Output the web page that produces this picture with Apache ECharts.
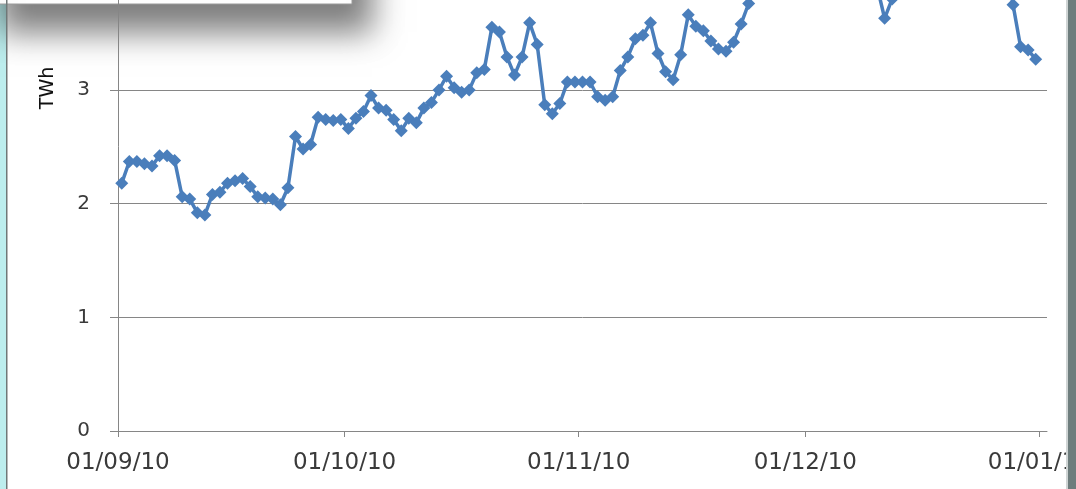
<!DOCTYPE html>
<html>
<head>
<meta charset="utf-8">
<script src="https://cdn.jsdelivr.net/npm/echarts@6/dist/echarts.min.js"></script>
<style>
  html, body { margin: 0; padding: 0; background: #ffffff; width: 1076px; height: 489px; overflow: hidden; position: relative; }
  /* the chart extends above the window: only the lower part of the plot is shown */
  #chart { position: absolute; left: 0; top: -160px; width: 1076px; height: 649px; }
</style>
</head>
<body>
<div id="chart"></div>
<script>
// Daily values, one per day starting at startDate
const startDate = [2010, 8, 1];
const dailyTWh = [
  // September
  2.18, 2.37, 2.37, 2.35, 2.33, 2.42, 2.42, 2.38, 2.06, 2.04,
  1.92, 1.90, 2.08, 2.10, 2.18, 2.20, 2.22, 2.15, 2.06, 2.05,
  2.04, 1.99, 2.14, 2.59, 2.48, 2.52, 2.76, 2.74, 2.73, 2.74,
  // October
  2.66, 2.75, 2.81, 2.95, 2.84, 2.82, 2.74, 2.64, 2.75, 2.71,
  2.84, 2.89, 3.00, 3.12, 3.02, 2.98, 3.00, 3.15, 3.18, 3.55,
  3.51, 3.29, 3.13, 3.29, 3.59, 3.40, 2.87, 2.79, 2.88, 3.07, 3.07,
  // November
  3.07, 3.07, 2.94, 2.91, 2.94, 3.17, 3.29, 3.45, 3.48, 3.59,
  3.32, 3.16, 3.09, 3.31, 3.66, 3.56, 3.52, 3.43, 3.36, 3.34,
  3.42, 3.58, 3.76, 3.95, 4.08, 4.02, 4.12, 4.20, 4.31, 4.42,
  // December
  4.47, 4.52, 4.36, 4.22, 4.27, 4.41, 4.33, 4.18, 4.06, 3.91,
  3.63, 3.80, 4.02, 4.15, 4.28, 4.37, 4.49, 4.56, 4.44, 4.30,
  4.38, 4.51, 4.62, 4.48, 4.35, 4.26, 4.20, 3.75, 3.38, 3.35, 3.27
];
const tickDates = [[2010, 8, 1], [2010, 9, 1], [2010, 10, 1], [2010, 11, 1], [2011, 0, 1]];
const tickLabels = ['01/09/10', '01/10/10', '01/11/10', '01/12/10', '01/01/11'];
const axisEndDate = [2011, 0, 2];
const yMin = 0, yMax = 5, yStep = 1;
const yAxisTitle = 'TWh';

// x positions are counted in days from startDate
const DAY = 86400000;
const utc = (d) => Date.UTC(d[0], d[1], d[2]);
const start = utc(startDate);
const dayOf = (d) => Math.round((utc(d) - start) / DAY);
// each daily mark sits in the middle of its day
const seriesData = dailyTWh.map((v, i) => [i + 0.5, v]);
const tickDays = tickDates.map(dayOf);

const OFF = 160; // vertical shift of the chart container
const AXIS = '#868686';
const FONT = 'DejaVu Sans';

const chart = echarts.init(document.getElementById('chart'), null, { renderer: 'canvas' });
chart.setOption({
  animation: false,
  backgroundColor: '#ffffff',
  grid: { left: 118, right: 29, top: 22.5, bottom: 58, outerBoundsMode: 'none', containLabel: false },
  xAxis: {
    type: 'value',
    min: 0,
    max: dayOf(axisEndDate),
    axisLine: { show: true, lineStyle: { color: AXIS, width: 1 } },
    axisTick: { show: true, customValues: tickDays, length: 6, lineStyle: { color: AXIS } },
    axisLabel: {
      customValues: tickDays,
      formatter: (v) => tickLabels[tickDays.indexOf(Math.round(v))],
      fontFamily: FONT, fontSize: 23, color: '#3a3a3a', margin: 21
    },
    splitLine: { show: false }
  },
  yAxis: {
    type: 'value',
    min: yMin, max: yMax, interval: yStep,
    axisLine: { show: true, lineStyle: { color: AXIS, width: 1 } },
    axisTick: { show: true, length: 8, lineStyle: { color: AXIS } },
    axisLabel: { fontFamily: FONT, fontSize: 20, color: '#3a3a3a', margin: 28 },
    splitLine: { show: true, lineStyle: { color: AXIS, width: 1 } }
  },
  series: [{
    type: 'line',
    data: seriesData,
    symbol: 'diamond',
    symbolSize: 13,
    showAllSymbol: true,
    lineStyle: { color: '#4a7ebb', width: 3.5 },
    itemStyle: { color: '#4a7ebb' },
    z: 5
  }],
  graphic: [
    // light cyan frame strip on the left
    { type: 'rect', z: -2, shape: { x: 0, y: 0, width: 6, height: 649 }, style: { fill: '#bdeeee' } },
    // text box above the plot with its drop shadow
    {
      type: 'rect', z: -1,
      shape: { x: -20, y: 0, width: 372, height: OFF + 4 },
      style: {
        fill: '#ffffff', stroke: '#9a9a9a', lineWidth: 1,
        shadowBlur: 30, shadowOffsetX: 20, shadowOffsetY: 28, shadowColor: 'rgba(0,0,0,0.5)'
      }
    },
    // window edges
    { type: 'rect', z: 100, shape: { x: 6, y: 0, width: 1.5, height: 649 }, style: { fill: '#707878' } },
    { type: 'rect', z: 100, shape: { x: 1066, y: 0, width: 2, height: 649 }, style: { fill: '#cfd4d4' } },
    { type: 'rect', z: 100, shape: { x: 1068, y: 0, width: 8, height: 649 }, style: { fill: '#6e7d7d' } },
    // axis title
    {
      type: 'text', z: 100, x: 48, y: 88 + OFF, rotation: Math.PI / 2,
      style: { text: yAxisTitle, fontFamily: FONT, fontSize: 19, fill: '#111111', align: 'center', verticalAlign: 'middle' }
    }
  ]
});
</script>
</body>
</html>
